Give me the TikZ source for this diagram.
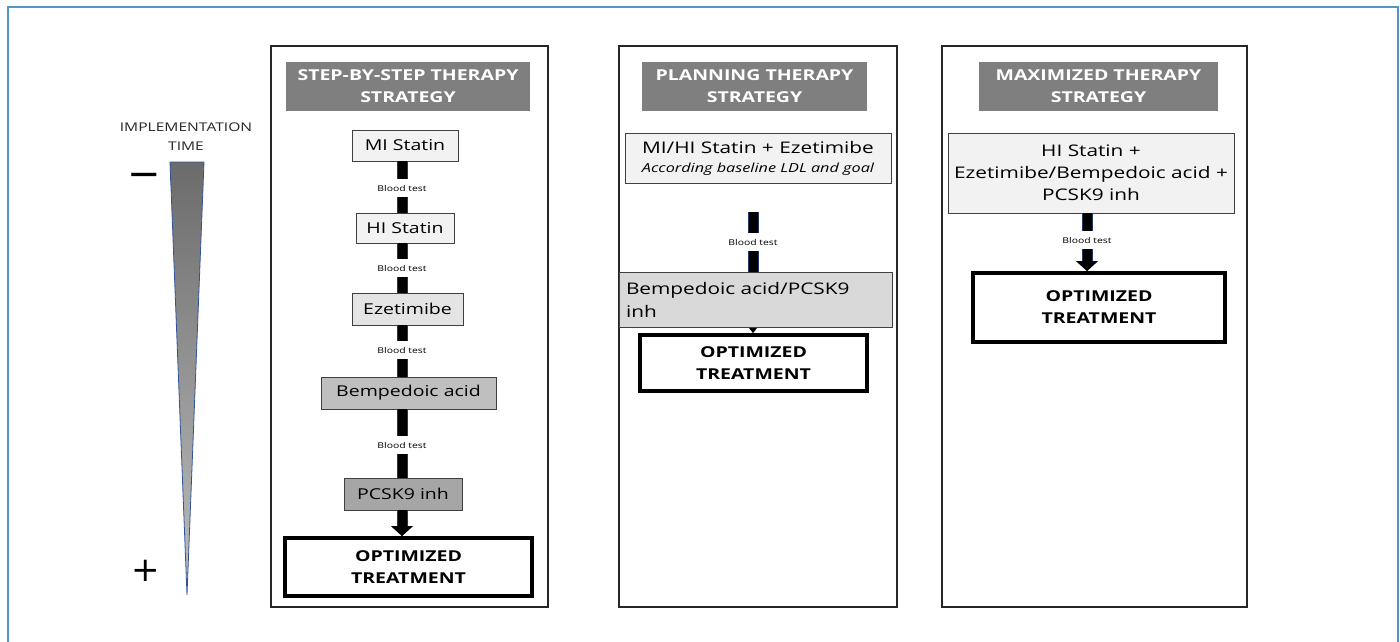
\documentclass[tikz,border=0pt]{standalone}
\usepackage{fontspec}
\setmainfont{Open Sans}[FakeStretch=1.3]
\newfontfamily\symfont{DejaVu Sans}
\usetikzlibrary{arrows.meta}
\definecolor{frameblue}{HTML}{4F97C8}
\definecolor{barblue}{HTML}{1F3864}
\definecolor{hdr}{HTML}{7F7F7F}
\definecolor{gA}{HTML}{F2F2F2}
\definecolor{gB}{HTML}{E4E4E4}
\definecolor{gC}{HTML}{D9D9D9}
\definecolor{gD}{HTML}{BFBFBF}
\definecolor{gE}{HTML}{A6A6A6}
\definecolor{tribord}{HTML}{2F5597}
\definecolor{boxline}{HTML}{404040}
\pgfdeclarelayer{bg}
\pgfsetlayers{bg,main}
\begin{document}
\begin{tikzpicture}[x=1pt,y=-1pt,
  panel/.style={draw=black!85, line width=1.2pt, inner sep=0pt, minimum width=#1, minimum height=561pt},
  hdrbox/.style={fill=hdr, inner sep=0pt, minimum width=#1, minimum height=49pt, text=white, align=center, font=\fontsize{15}{22}\selectfont\bfseries},
  drug/.style={draw=boxline, line width=0.8pt, inner sep=0pt, align=center, font=\fontsize{15}{22}\selectfont},
  optbox/.style={draw=black, line width=4pt, fill=white, inner sep=0pt, align=center, font=\fontsize{15}{22}\selectfont\bfseries},
  bar/.style={draw=black, line width=9pt, preaction={draw=barblue, line width=11pt}},
  bararrow/.style={bar, -{Triangle[width=22pt,length=10pt,line width=0pt]}},
  bt/.style={fill=white, inner xsep=2pt, inner ysep=6pt, font=\fontsize{8}{10}\selectfont},
]
\useasboundingbox (0,0) rectangle (1400,642);
% outer frame
\draw[frameblue, line width=2pt] (8,660) -- (8,7) -- (1398,7) -- (1398,660);

% time indicator
\shade[top color=black!58, bottom color=black!25, draw=tribord, line width=0.8pt]
  (170,162) -- (204,162) -- (187,595) -- cycle;
\node[align=center, font=\fontsize{12}{19}\selectfont, text=black!85] (impl) at (186,137) {IMPLEMENTATION\\TIME};
\node[inner sep=0pt] (minus) at (144,180) {\symfont\fontsize{40}{40}\selectfont −};
\node[inner sep=0pt] (plus) at (146,571) {\symfont\fontsize{34}{34}\selectfont +};

% panels
\node[panel=277pt] (p1) at (409.5,326.5) {};
\node[panel=278pt] (p2) at (758,326.5) {};
\node[panel=305pt] (p3) at (1094.5,326.5) {};

% headers
\node[hdrbox=244pt] (h1) at (408,86.5) {STEP-BY-STEP THERAPY\\STRATEGY};
\node[hdrbox=225pt] (h2) at (754.5,86.5) {PLANNING THERAPY\\STRATEGY};
\node[hdrbox=239pt] (h3) at (1098.5,86.5) {MAXIMIZED THERAPY\\STRATEGY};

% panel 1
\node[drug, fill=gA, minimum width=106pt, minimum height=31pt] (mi1) at (405,145.5) {MI Statin};
\node[drug, fill=gA, minimum width=98pt, minimum height=30pt] (hi1) at (405,228) {HI Statin};
\node[drug, fill=gB, minimum width=111pt, minimum height=32pt] (ez1) at (407.5,309) {Ezetimibe};
\node[drug, fill=gD, minimum width=175pt, minimum height=32pt] (bp1) at (408.5,393) {Bempedoic acid};
\node[drug, fill=gE, minimum width=118pt, minimum height=32pt] (pc1) at (403,494) {PCSK9 inh};
\node[optbox, minimum width=247pt, minimum height=58pt] (opt1) at (408.5,567) {OPTIMIZED\\TREATMENT};

\coordinate (c1) at (402,0);
\draw[bar] (mi1.south -| c1) -- (hi1.north -| c1);
\draw[bar] (hi1.south -| c1) -- (ez1.north -| c1);
\draw[bar] (ez1.south -| c1) -- (bp1.north -| c1);
\draw[bar] (bp1.south -| c1) -- (pc1.north -| c1);
\draw[bararrow] (pc1.south -| c1) -- (opt1.north -| c1);
\node[bt] (bt1) at (402,188) {Blood test};
\node[bt] (bt2) at (402,268) {Blood test};
\node[bt] (bt3) at (402,350) {Blood test};
\node[bt] (bt4) at (402,445) {Blood test};

% panel 2
\node[drug, fill=gA, minimum width=266pt, minimum height=50pt] (mi2) at (758,158)
  {\fontsize{16}{21}\selectfont MI/HI Statin + Ezetimibe\\[-3pt]{\fontsize{12.5}{15}\selectfont\itshape According baseline LDL and goal}};
\node[drug, fill=gC, minimum height=55pt, text width=259pt, inner xsep=7pt, align=left,
  font=\fontsize{16}{23}\selectfont] (bp2) at (755.5,299.5) {Bempedoic acid/PCSK9\\inh};
\node[optbox, minimum width=227pt, minimum height=56pt] (opt2) at (753.5,363) {OPTIMIZED\\TREATMENT};

\coordinate (c2) at (753,0);
\draw[bar, shorten <=29pt] (mi2.south -| c2) -- (bp2.north -| c2);
\begin{pgfonlayer}{bg}
\draw[bar, -{Triangle[width=24pt,length=16pt,line width=0pt]}] (bp2.center -| c2) -- (opt2.north -| c2);
\end{pgfonlayer}
\node[bt] (bt5) at (753,242) {Blood test};

% panel 3
\node[drug, fill=gA, minimum width=286pt, minimum height=80pt, font=\fontsize{16}{22}\selectfont] (hi3) at (1091,173)
  {HI Statin +\\Ezetimibe/Bempedoic acid +\\PCSK9 inh};
\node[optbox, minimum width=252pt, minimum height=69pt] (opt3) at (1099,307.5) {OPTIMIZED\\TREATMENT};

\coordinate (c3) at (1087,0);
\draw[bararrow] (hi3.south -| c3) -- (opt3.north -| c3);
\node[bt] (bt6) at (1087,240) {Blood test};
\end{tikzpicture}
\end{document}
